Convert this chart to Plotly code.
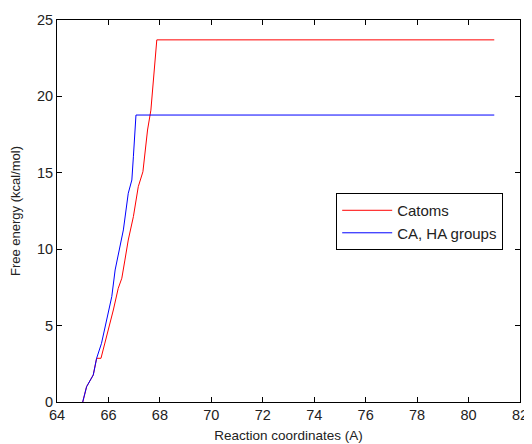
import plotly.graph_objects as go

blue_x = [65.0, 65.15, 65.41, 65.54, 65.73, 65.93, 66.13, 66.26, 66.45, 66.58, 66.77, 66.91, 66.97, 67.04, 67.07, 81.0]
blue_y = [0, 1.0, 1.77, 2.86, 3.84, 5.48, 6.9, 8.64, 10.16, 11.26, 13.66, 14.53, 16.05, 17.8, 18.78, 18.78]

red_x = [65.0, 65.15, 65.41, 65.54, 65.71, 65.93, 66.19, 66.38, 66.52, 66.64, 66.77, 66.97, 67.16, 67.34, 67.43, 67.52, 67.65, 67.78, 67.88, 81.0]
red_y = [0, 1.0, 1.77, 2.86, 2.86, 4.27, 6.02, 7.44, 8.1, 9.29, 10.6, 12.13, 14.09, 15.07, 16.49, 17.8, 19.1, 21.5, 23.7, 23.7]

x_ticks = [64, 66, 68, 70, 72, 74, 76, 78, 80, 82]
y_ticks = [0, 5, 10, 15, 20, 25]

fig = go.Figure()
fig.add_trace(go.Scatter(x=red_x, y=red_y, mode="lines", name="Catoms",
                         line=dict(color="#ff0000", width=1)))
fig.add_trace(go.Scatter(x=blue_x, y=blue_y, mode="lines", name="CA, HA groups",
                         line=dict(color="#0000ff", width=1)))

axis_common = dict(showline=True, linecolor="black", linewidth=1, mirror="ticks",
                   ticks="inside", ticklen=5, tickcolor="black", showgrid=False,
                   zeroline=False, automargin=False,
                   tickfont=dict(size=14.5, color="#222"))
fig.update_xaxes(range=[64, 82], tickvals=x_ticks,
                 title=dict(text="Reaction coordinates (A)", font=dict(size=13.5, color="#222"), standoff=8),
                 **axis_common)
fig.update_yaxes(range=[0, 25], tickvals=y_ticks,
                 title=dict(text="Free energy (kcal/mol)", font=dict(size=13, color="#222"), standoff=13),
                 **axis_common)

fig.update_layout(
    width=524, height=436,
    margin=dict(l=49, r=12, t=12, b=42),
    paper_bgcolor="white", plot_bgcolor="white",
    font=dict(family="Liberation Sans, Arial, sans-serif", size=13, color="#222"),
    legend=dict(x=0.603, y=0.547, xanchor="left", yanchor="top",
                bordercolor="black", borderwidth=1, bgcolor="white",
                font=dict(size=15), tracegroupgap=0, itemwidth=50),
)

fig.write_html("out.html")
